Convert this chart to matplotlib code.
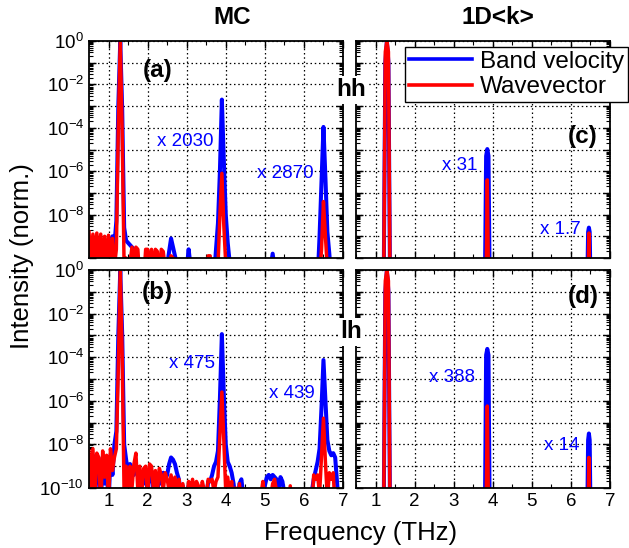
import numpy as np
import matplotlib
matplotlib.use('Agg')
import matplotlib.pyplot as plt
from matplotlib.ticker import LogLocator, MultipleLocator, NullFormatter

plt.rcParams['font.family'] = ['Liberation Sans', 'DejaVu Sans']
plt.rcParams['mathtext.fontset'] = 'custom'
plt.rcParams['mathtext.rm'] = 'Liberation Sans'
plt.rcParams['mathtext.it'] = 'Liberation Sans:italic'
plt.rcParams['mathtext.bf'] = 'Liberation Sans:bold'

# %%
# spectra, log10(intensity). -11 = below the axis floor

# MC grid: 0.50 ... 6.90 THz in 0.05 steps
f_mc = np.round(np.arange(0.50, 6.901, 0.05), 2)

mc_hh_band = [
    -9.3, -10.3, -9.2, -10.3, -9.3, -10.3, -9.2, -10.3, -9.3, -10.3,
    -9.2, -10.3, -9.0, -9.4, -8.3, -3.0, 0.0, -3.2, -8.6, -9.2,
    -9.3, -9.4, -9.5, -9.6, -9.9, -10.2, -10.5, -11, -11, -11,
    -10.4, -11, -10.4, -11, -11, -11, -10.6, -11, -10.6, -11,
    -10.4, -9.7, -9.1, -9.5, -9.9, -10.3, -11, -11, -11, -11,
    -10.5, -9.6, -10.4, -11, -11, -11, -11, -11, -11, -11,
    -11, -10.2, -11, -11, -10.9, -9.6, -8.4, -6.0, -2.7, -5.5,
    -8.0, -9.3, -10.2, -11, -11, -11, -11, -11, -11, -11,
    -11, -11, -11, -11, -11, -11, -11, -11, -11, -11,
    -11, -11, -11, -10.4, -9.8, -10.5, -11, -11, -11, -11,
    -11, -11, -11, -11, -11, -11, -11, -11, -11, -11,
    -11, -11, -11, -11, -11, -11, -11, -11, -9.0, -6.5,
    -3.96, -6.3, -8.8, -9.8, -11, -11, -11, -11, -11]

mc_hh_wave = [
    -8.8, -10.3, -8.9, -10.2, -8.85, -10.3, -8.9, -10.2, -9.0, -10.3,
    -8.95, -10.3, -9.1, -10.4, -9.6, -4.0, 0.0, -4.3, -10.6, -10.0,
    -11, -10.2, -9.5, -10.3, -9.5, -9.6, -11, -11, -11, -9.6,
    -9.6, -10.3, -9.6, -10.5, -9.6, -9.7, -11, -9.6, -9.7, -10.5,
    -11, -11, -9.9, -10.0, -11, -11, -11, -11, -11, -11,
    -11, -10.6, -11, -11, -11, -11, -11, -11, -11, -11,
    -11, -9.9, -9.9, -11, -11, -11, -10.4, -8.0, -6.1, -8.5,
    -10.3, -11, -11, -11, -11, -11, -11, -11, -11, -11,
    -11, -11, -11, -11, -11, -11, -11, -11, -11, -11,
    -11, -11, -11, -11, -11, -11, -11, -10.1, -11, -11,
    -11, -11, -11, -11, -11, -11, -11, -11, -11, -11,
    -11, -11, -11, -11, -11, -11, -11, -11, -11, -9.6,
    -7.4, -9.0, -10.5, -11, -11, -11, -11, -11, -11]

mc_lh_band = [
    -8.6, -10.3, -8.5, -10.6, -8.7, -8.9, -10.8, -8.6, -9.8, -8.8,
    -10.8, -8.5, -9.4, -8.0, -7.4, -3.0, 0.0, -3.0, -8.0, -8.7,
    -9.3, -8.9, -9.1, -9.4, -9.0, -9.3, -9.6, -9.5, -9.8, -9.3,
    -10.2, -9.4, -9.3, -10.0, -9.5, -10.2, -9.4, -9.8, -9.3, -9.6,
    -9.4, -8.9, -8.6, -8.7, -8.9, -9.3, -9.6, -10.2, -9.9, -10.3,
    -10.6, -9.9, -10.3, -9.8, -10.3, -9.9, -10.1, -10.4, -9.9, -10.3,
    -10.5, -9.7, -9.7, -9.4, -9.0, -8.8, -8.3, -5.9, -2.94, -5.7,
    -8.0, -8.8, -9.0, -9.3, -9.8, -10.5, -11, -9.8, -9.6, -10.4,
    -10.6, -11, -11, -11, -11, -11, -11, -10.5, -11, -10.4,
    -9.9, -9.5, -9.4, -9.6, -9.4, -9.5, -9.6, -10.0, -9.5, -9.7,
    -10.3, -11, -11, -10.2, -10.6, -11, -11, -11, -11, -10.5,
    -11, -11, -11, -11, -10.2, -9.6, -9.2, -8.8, -8.2, -6.3,
    -4.13, -6.0, -7.8, -8.3, -8.5, -8.4, -8.6, -9.8, -11]

mc_lh_wave = [
    -8.3, -10.2, -8.2, -10.5, -8.4, -8.6, -10.8, -8.3, -9.5, -8.5,
    -10.6, -8.2, -9.2, -8.6, -8.2, -4.5, 0.0, -4.0, -10.5, -9.0,
    -10.8, -9.0, -10.0, -8.9, -8.4, -10.1, -9.0, -10.2, -9.1, -9.0,
    -10.3, -8.9, -9.0, -10.1, -9.2, -10.2, -9.1, -9.4, -10.1, -9.3,
    -9.6, -10.1, -9.4, -10.1, -9.5, -10.1, -9.6, -10.3, -9.8, -10.4,
    -10.5, -9.7, -10.2, -9.6, -10.2, -9.7, -9.9, -10.3, -9.7, -10.1,
    -10.4, -9.6, -9.7, -9.6, -10.2, -9.7, -9.5, -7.5, -5.6, -7.8,
    -10.2, -9.5, -10.3, -9.7, -11, -10.0, -11, -9.8, -11, -11,
    -10.2, -11, -11, -11, -11, -11, -11, -11, -10.3, -9.7,
    -10.5, -11, -11, -10.4, -9.8, -9.6, -10.2, -11, -11, -11,
    -11, -10.4, -11, -9.9, -11, -11, -11, -11, -11, -11,
    -11, -11, -11, -11, -11, -9.4, -9.6, -9.4, -10.3, -8.5,
    -6.8, -8.8, -10.5, -9.3, -9.6, -9.3, -11, -11, -11]

# 1D<k> spectra: only the three lines
f_1d = [0.50, 1.21, 1.25, 1.29, 1.33, 1.37, 3.80, 3.83, 3.86, 3.89, 3.92,
        6.42, 6.44, 6.46, 6.48, 6.50, 6.90]
k_hh_band = [-11, -11, -1.0, 0.0, -1.0, -11, -11, -5.3, -4.98, -5.3, -11,
             -11, -8.8, -8.6, -8.8, -11, -11]
k_hh_wave = [-11, -11, -0.5, 0.0, -0.5, -11, -11, -11, -6.4, -11, -11,
             -11, -11, -8.85, -11, -11, -11]
k_lh_band = [-11, -11, -1.0, 0.0, -1.0, -11, -11, -3.9, -3.62, -3.9, -11,
             -11, -7.8, -7.5, -7.8, -11, -11]
k_lh_wave = [-11, -11, -0.5, 0.0, -0.5, -11, -11, -11, -6.24, -11, -11,
             -11, -11, -8.6, -11, -11, -11]

# scale factors written next to the peaks
scale_a = ['x 2030', 'x 2870']
scale_b = ['x 475', 'x 439']
scale_c = ['x 31', 'x 1.7']
scale_d = ['x 388', 'x 14']

# %%
W, H = 629, 548
fig = plt.figure(figsize=(W / 100, H / 100), dpi=100)


def fx(x):
    return x / W


def fy(y):
    return 1 - y / H


def make_ax(x0, y0, x1, y1):
    return fig.add_axes([fx(x0), fy(y1), fx(x1) - fx(x0), fy(y0) - fy(y1)])


ax_a = make_ax(89, 41, 343, 258)
ax_c = make_ax(356, 41, 610, 258)
ax_b = make_ax(89, 270, 343, 488)
ax_d = make_ax(356, 270, 610, 488)

panels = [
    (ax_a, f_mc, mc_hh_band, mc_hh_wave),
    (ax_c, f_1d, k_hh_band, k_hh_wave),
    (ax_b, f_mc, mc_lh_band, mc_lh_wave),
    (ax_d, f_1d, k_lh_band, k_lh_wave),
]

decades = [10.0 ** -k for k in range(0, 11)]
for ax, f, band, wave in panels:
    ax.plot(f, 10.0 ** np.array(band), color='#0000ff', lw=2.9, label='Band velocity')
    ax.plot(f, 10.0 ** np.array(wave), color='#ff0000', lw=2.5, label='Wavevector')
    ax.set_yscale('log')
    ax.set_ylim(1e-10, 1)
    ax.set_xlim(0.5, 7)
    ax.set_axisbelow(True)
    ax.set_yticks(decades)
    ax.yaxis.set_minor_locator(LogLocator(base=10, subs=np.arange(2, 10), numticks=20))
    ax.yaxis.set_minor_formatter(NullFormatter())
    ax.xaxis.set_major_locator(MultipleLocator(1))
    ax.xaxis.set_minor_locator(MultipleLocator(0.5))
    ax.grid(True, which='major', linestyle=(0, (1.2, 2.2)), color='black', lw=0.9)
    ax.tick_params(which='both', direction='in', top=True, right=True, labelsize=13.5)
    ax.tick_params(which='major', length=5, width=1)
    ax.tick_params(which='minor', length=3, width=0.8)
    for s in ax.spines.values():
        s.set_linewidth(1.3)

ylabels = ['10$^{%d}$' % (-k) if k % 2 == 0 else '' for k in range(0, 11)]
ax_a.set_yticklabels(ylabels[:-1] + [''])
ax_b.set_yticklabels(ylabels)
ax_c.set_yticklabels([])
ax_d.set_yticklabels([])
ax_a.set_xticklabels([])
ax_c.set_xticklabels([])
ax_b.set_xticks(range(1, 8))
ax_d.set_xticks(range(1, 8))
ax_b.set_xticklabels([str(i) for i in range(1, 8)])
ax_d.set_xticklabels([str(i) for i in range(1, 8)])
ax_b.set_xlim(0.5, 7)
ax_d.set_xlim(0.5, 7)

# panel letters and scale factors
def put(x, y, s, **kw):
    fig.text(fx(x), fy(y), s, ha='center', va='center', **kw)


bold = dict(fontsize=17.5, fontweight='bold')
put(158, 70, '(a)', **bold)
put(157, 293, '(b)', **bold)
put(583, 137, '(c)', **bold)
put(583, 297, '(d)', **bold)

blue_txt = dict(fontsize=13.5, color='#0000ff')
put(185, 142, scale_a[0], **blue_txt)
put(285, 173, scale_a[1], **blue_txt)
put(192, 364, scale_b[0], **blue_txt)
put(292, 393, scale_b[1], **blue_txt)
put(460, 165, scale_c[0], **blue_txt)
put(560, 230, scale_c[1], **blue_txt)
put(452, 377, scale_d[0], **blue_txt)
put(562, 446, scale_d[1], **blue_txt)

put(232, 18, 'MC', fontsize=17.5, fontweight='bold')
put(498, 18, '1D<k>', fontsize=17.5, fontweight='bold')
put(351, 90, 'hh', fontsize=17.5, fontweight='bold', zorder=10,
    bbox=dict(facecolor='white', edgecolor='none', pad=1.5))
put(351, 332, 'lh', fontsize=17.5, fontweight='bold', zorder=10,
    bbox=dict(facecolor='white', edgecolor='none', pad=1.5))

put(361, 533, 'Frequency (THz)', fontsize=18.5)
put(22, 256, 'Intensity (norm.)', fontsize=18.5, rotation=90)

h, l = ax_c.get_legend_handles_labels()
leg = fig.legend(h, l, loc='upper right', bbox_to_anchor=(fx(628), fy(47)),
                 fontsize=17.5, frameon=True, fancybox=False, edgecolor='black',
                 framealpha=1, borderpad=0.15, labelspacing=0.15, handlelength=2.6,
                 handletextpad=0.35, borderaxespad=0)
leg.get_frame().set_linewidth(1.0)
for ln in leg.get_lines():
    ln.set_linewidth(2.6)

fig.savefig('out.png', dpi=100)
